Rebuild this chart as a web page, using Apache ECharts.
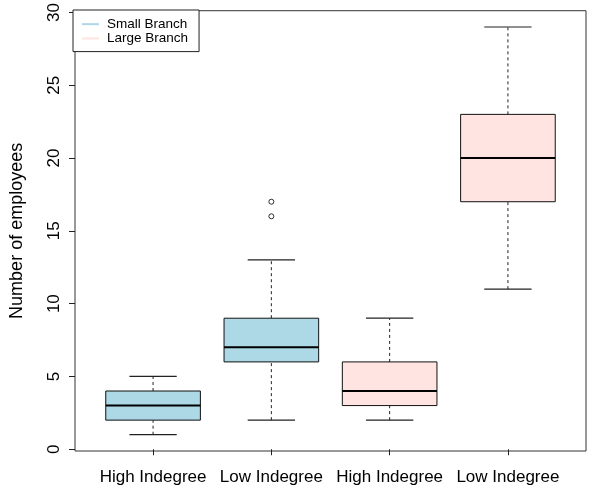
<!DOCTYPE html>
<html>
<head>
<meta charset="utf-8">
<script src="https://cdn.jsdelivr.net/npm/echarts@6/dist/echarts.min.js"></script>
<style>
  html, body { margin: 0; padding: 0; background: #fff; }
  #chart { width: 593px; height: 490px; }
</style>
</head>
<body>
<div id="chart"></div>
<script>
// Employee counts per branch group, summarised as boxplot statistics
const categories = ['High Indegree', 'Low Indegree', 'High Indegree', 'Low Indegree'];
const groups = ['Small Branch', 'Small Branch', 'Large Branch', 'Large Branch'];
const lowerWhisker = [1, 2, 2, 11];
const lowerQuartile = [2, 6, 3, 17];
const medians = [3, 7, 4, 20];
const upperQuartile = [4, 9, 6, 23];
const upperWhisker = [5, 13, 9, 29];
const outlierBox = [2, 2];
const outlierValues = [16, 17];
const yTicks = [0, 5, 10, 15, 20, 25, 30];
const groupColors = { 'Small Branch': '#ADD8E6', 'Large Branch': '#FFE4E1' };

const FONT = "'Liberation Sans', Arial, Helvetica, sans-serif";

function boxRows(group) {
  const rows = [];
  categories.forEach((c, i) => {
    if (groups[i] === group) {
      rows.push([i + 1, lowerWhisker[i], lowerQuartile[i], medians[i], upperQuartile[i], upperWhisker[i]]);
    }
  });
  return rows;
}

function renderBox(params, api) {
  const x = api.value(0);
  const lo = api.value(1), q1 = api.value(2), med = api.value(3), q3 = api.value(4), hi = api.value(5);
  const fill = api.visual('color');
  const cx = api.coord([x, med])[0];
  const halfBox = api.size([0.8, 0])[0] / 2;
  const halfCap = api.size([0.4, 0])[0] / 2;
  const y = v => api.coord([x, v])[1];
  const dashed = { stroke: '#222', lineWidth: 1, lineDash: [3, 3] };
  const solid = { stroke: '#222', lineWidth: 1.2 };
  return {
    type: 'group',
    children: [
      { type: 'line', shape: { x1: cx, y1: y(q3), x2: cx, y2: y(hi) }, style: dashed },
      { type: 'line', shape: { x1: cx, y1: y(lo), x2: cx, y2: y(q1) }, style: dashed },
      { type: 'line', shape: { x1: cx - halfCap, y1: y(hi), x2: cx + halfCap, y2: y(hi) }, style: solid },
      { type: 'line', shape: { x1: cx - halfCap, y1: y(lo), x2: cx + halfCap, y2: y(lo) }, style: solid },
      { type: 'rect', shape: { x: cx - halfBox, y: y(q3), width: 2 * halfBox, height: y(q1) - y(q3) },
        style: { fill: fill, stroke: '#111', lineWidth: 1 } },
      { type: 'line', shape: { x1: cx - halfBox, y1: y(med), x2: cx + halfBox, y2: y(med) },
        style: { stroke: '#000', lineWidth: 2 } }
    ]
  };
}

const chart = echarts.init(document.getElementById('chart'), null, { renderer: 'canvas' });

chart.setOption({
  animation: false,
  backgroundColor: '#fff',
  textStyle: { fontFamily: FONT, color: '#000' },
  grid: {
    left: 73, right: 7, top: 10, bottom: 39,
    show: true, borderColor: '#333', borderWidth: 1, backgroundColor: 'transparent'
  },
  legend: {
    orient: 'vertical',
    left: 73, top: 10,
    padding: [7, 11, 6, 9],
    itemGap: 0,
    itemWidth: 17, itemHeight: 2,
    borderColor: '#222', borderWidth: 1,
    backgroundColor: '#fff',
    textStyle: { fontFamily: FONT, fontSize: 13.5, color: '#000', lineHeight: 14.3, padding: [0, 0, 0, 3] },
    data: [
      { name: 'Small Branch', icon: 'rect', itemStyle: { color: groupColors['Small Branch'] } },
      { name: 'Large Branch', icon: 'rect', itemStyle: { color: groupColors['Large Branch'] } }
    ]
  },
  xAxis: {
    type: 'value',
    min: 0.34, max: 4.66,
    splitLine: { show: false },
    axisLine: { show: false },
    axisTick: { show: true, length: 6, inside: false, customValues: [1, 2, 3, 4],
      lineStyle: { color: '#222', width: 1 } },
    axisLabel: {
      show: true, customValues: [1, 2, 3, 4], margin: 18,
      fontFamily: FONT, fontSize: 17, color: '#000',
      formatter: v => categories[Math.round(v) - 1] || ''
    }
  },
  yAxis: {
    type: 'value',
    min: -0.12, max: 30.12,
    name: 'Number of employees',
    nameLocation: 'middle',
    nameRotate: 90,
    nameGap: 49,
    nameTextStyle: { fontFamily: FONT, fontSize: 18, color: '#000' },
    splitLine: { show: false },
    axisLine: { show: false },
    axisTick: { show: true, length: 6, customValues: yTicks, lineStyle: { color: '#222', width: 1 } },
    axisLabel: {
      show: true, customValues: yTicks, rotate: 90, margin: 12,
      fontFamily: FONT, fontSize: 17, color: '#000'
    }
  },
  series: [
    {
      name: 'Small Branch', type: 'custom',
      itemStyle: { color: groupColors['Small Branch'] },
      renderItem: renderBox,
      encode: { x: 0, y: [1, 2, 3, 4, 5] },
      data: boxRows('Small Branch')
    },
    {
      name: 'Large Branch', type: 'custom',
      itemStyle: { color: groupColors['Large Branch'] },
      renderItem: renderBox,
      encode: { x: 0, y: [1, 2, 3, 4, 5] },
      data: boxRows('Large Branch')
    },
    {
      name: 'Outliers', type: 'scatter',
      symbol: 'circle', symbolSize: 5,
      itemStyle: { color: '#fff', borderColor: '#000', borderWidth: 1 },
      data: outlierBox.map((b, i) => [b, outlierValues[i]])
    }
  ]
});
</script>
</body>
</html>
